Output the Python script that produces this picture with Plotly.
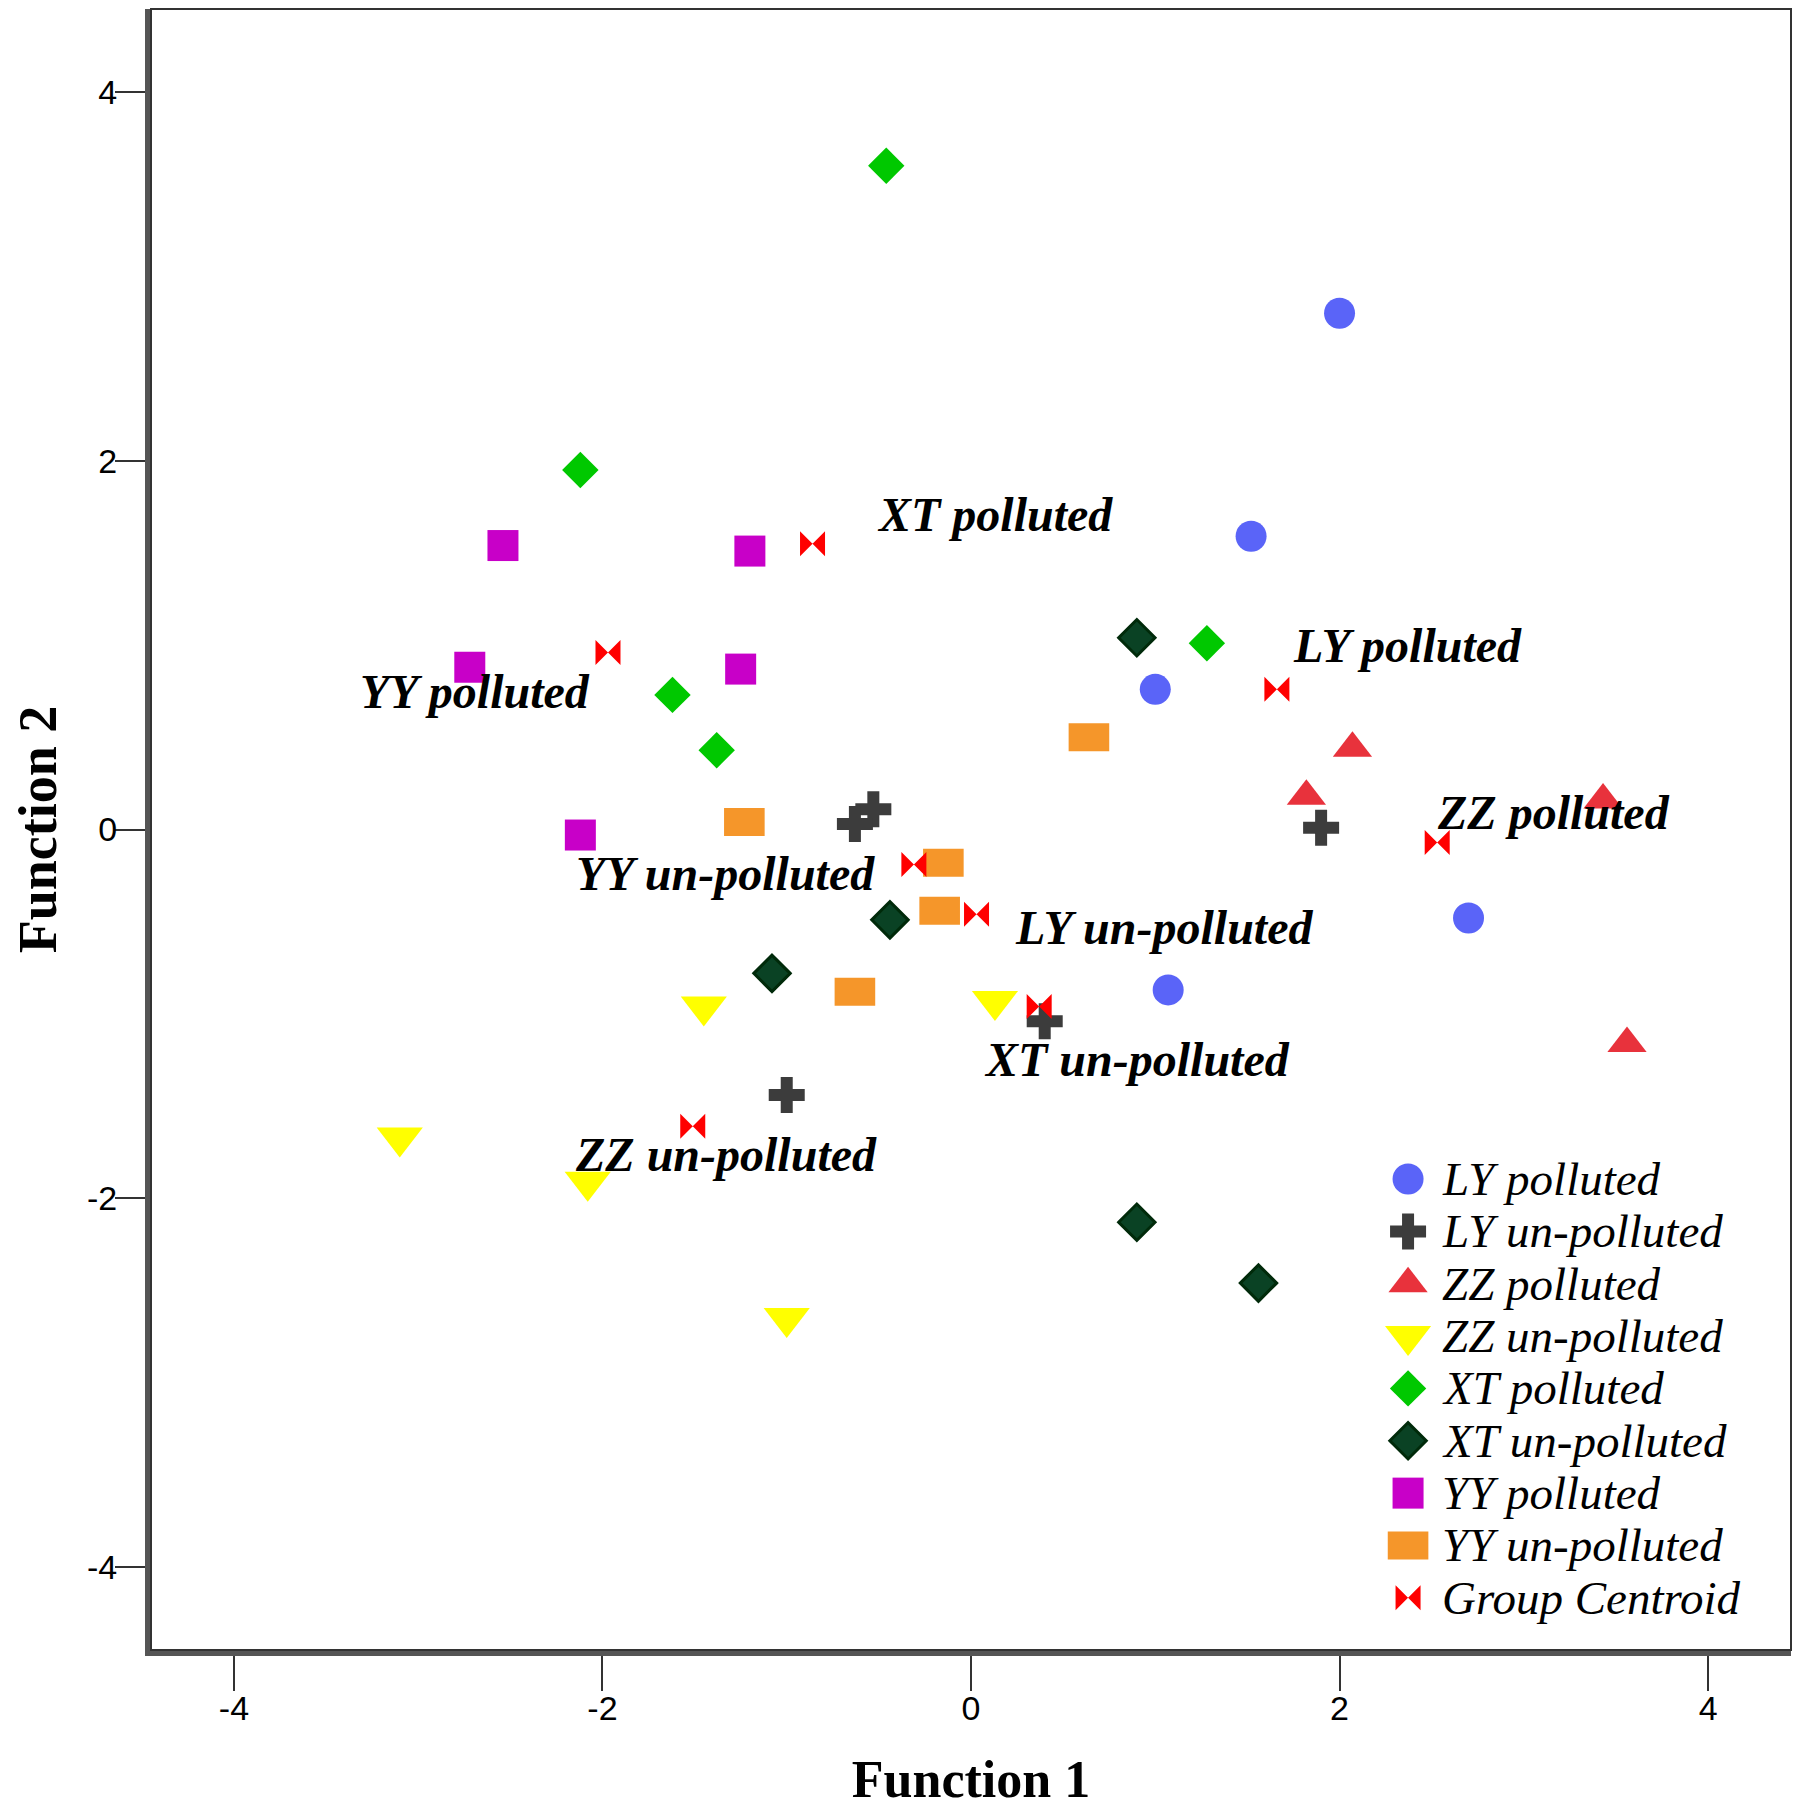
import plotly.graph_objects as go

# discriminant scores
ly_pol_x = [2.00, 1.52, 1.00, 2.70, 1.07]
ly_pol_y = [2.80, 1.59, 0.76, -0.48, -0.87]

ly_unp_x = [-0.53, -0.63, 1.90, 0.40, -1.00]
ly_unp_y = [0.11, 0.03, 0.01, -1.04, -1.44]

zz_pol_x = [2.07, 1.82, 3.43, 3.56]
zz_pol_y = [0.44, 0.18, 0.16, -1.16]

zz_unp_x = [-3.10, -1.45, -2.08, 0.13, -1.00]
zz_unp_y = [-1.67, -0.96, -1.91, -0.93, -2.65]

xt_pol_x = [-0.46, -2.12, 1.28, -1.62, -1.38]
xt_pol_y = [3.60, 1.95, 1.01, 0.73, 0.43]

xt_unp_x = [0.90, -0.44, -1.08, 0.90, 1.56]
xt_unp_y = [1.04, -0.49, -0.78, -2.13, -2.46]

yy_pol_x = [-2.54, -1.20, -2.72, -1.25, -2.12]
yy_pol_y = [1.54, 1.51, 0.88, 0.87, -0.03]

yy_unp_x = [0.64, -1.23, -0.15, -0.17, -0.63]
yy_unp_y = [0.50, 0.04, -0.18, -0.44, -0.88]

cen_x = [-0.86, -1.97, 1.66, 2.53, -0.31, 0.03, 0.37, -1.51]
cen_y = [1.55, 0.96, 0.76, -0.07, -0.19, -0.46, -0.96, -1.61]

label_text = ["XT polluted", "YY polluted", "LY polluted", "ZZ polluted",
              "YY un-polluted", "LY un-polluted", "XT un-polluted", "ZZ un-polluted"]
label_x = [0.13, -2.69, 2.37, 3.16, -1.33, 1.05, 0.90, -1.33]
label_y = [1.71, 0.75, 1.00, 0.09, -0.24, -0.53, -1.25, -1.76]

tick_vals = [-4, -2, 0, 2, 4]
tick_text = ["-4", "-2", "0", "2", "4"]

serif = "Liberation Serif"

# name, x, y, symbol, fill, size, outline colour, outline width
series = [
    ("LY polluted", ly_pol_x, ly_pol_y, "circle", "#5a64f8", 31, None, 0),
    ("LY un-polluted", ly_unp_x, ly_unp_y, "cross", "#3c3c3c", 30, None, 0),
    ("ZZ polluted", zz_pol_x, zz_pol_y, "triangle-up", "#e8323c", 34, None, 0),
    ("ZZ un-polluted", zz_unp_x, zz_unp_y, "triangle-down", "#ffff00", 40, None, 0),
    ("XT polluted", xt_pol_x, xt_pol_y, "diamond", "#00c800", 28, None, 0),
    ("XT un-polluted", xt_unp_x, xt_unp_y, "diamond", "#0a4224", 28, "#002a0a", 3),
    ("YY polluted", yy_pol_x, yy_pol_y, "square", "#c800c8", 31, None, 0),
    # wide orange rectangle: a thick horizontal line marker
    ("YY un-polluted", yy_unp_x, yy_unp_y, "line-ew", "#f5962a", 29, "#f5962a", 28),
    ("Group Centroid", cen_x, cen_y, "bowtie", "#ff0000", 25, None, 0),
]

fig = go.Figure()

for name, xs, ys, sym, col, size, lc, lw in series:
    fig.add_trace(go.Scatter(
        x=xs, y=ys, mode="markers", name=name, showlegend=False,
        marker=dict(symbol=sym, color=col, size=size,
                    line=dict(color=lc or col, width=lw))))

for t, x, y in zip(label_text, label_x, label_y):
    fig.add_annotation(x=x, y=y, text="<b><i>" + t + "</i></b>", showarrow=False,
                       xanchor="center", yanchor="middle",
                       font=dict(family=serif, size=48, color="black"))

# hand-made legend (plotly caps legend marker size), on an overlay axis in 0..1
leg_x = 0.7665
leg_text_x = 0.786
leg_top = 0.287
leg_step = 0.0319
for i, (name, xs, ys, sym, col, size, lc, lw) in enumerate(series):
    yy = leg_top - i * leg_step
    fig.add_trace(go.Scatter(
        x=[leg_x], y=[yy], xaxis="x2", yaxis="y2", mode="markers",
        showlegend=False, hoverinfo="skip",
        marker=dict(symbol=sym, color=col, size=size,
                    line=dict(color=lc or col, width=lw))))
    fig.add_annotation(x=leg_text_x, y=yy, xref="paper", yref="paper",
                       text="<i>" + name + "</i>", showarrow=False,
                       xanchor="left", yanchor="middle",
                       font=dict(family=serif, size=47, color="black"))

# thin frame round the plot area
fig.add_shape(type="rect", xref="paper", yref="paper", x0=0, y0=0, x1=1, y1=1,
              line=dict(color="#333333", width=2), layer="above")

axis_common = dict(range=[-4.45, 4.45], tickvals=tick_vals, ticktext=tick_text,
                   showgrid=False, zeroline=False, showline=True, automargin=False,
                   linecolor="#555555", linewidth=6, ticks="outside",
                   tickcolor="#333333", tickwidth=2,
                   tickfont=dict(family="Liberation Sans", size=34, color="black"))

fig.update_layout(
    width=1792, height=1800,
    margin=dict(l=143, r=9, t=1, b=158),
    plot_bgcolor="white", paper_bgcolor="white",
    showlegend=False,
    xaxis=dict(**axis_common, ticklen=35, ticklabelstandoff=-12,
               title=dict(text="<b>Function 1</b>", standoff=48,
                          font=dict(family=serif, size=52, color="black"))),
    yaxis=dict(**axis_common, ticklen=30, ticklabelstandoff=-9,
               title=dict(text="<b>Function 2</b>", standoff=72,
                          font=dict(family=serif, size=54, color="black"))),
    xaxis2=dict(overlaying="x", range=[0, 1], visible=False, fixedrange=True),
    yaxis2=dict(overlaying="y", range=[0, 1], visible=False, fixedrange=True),
)

fig.write_html("out.html")
